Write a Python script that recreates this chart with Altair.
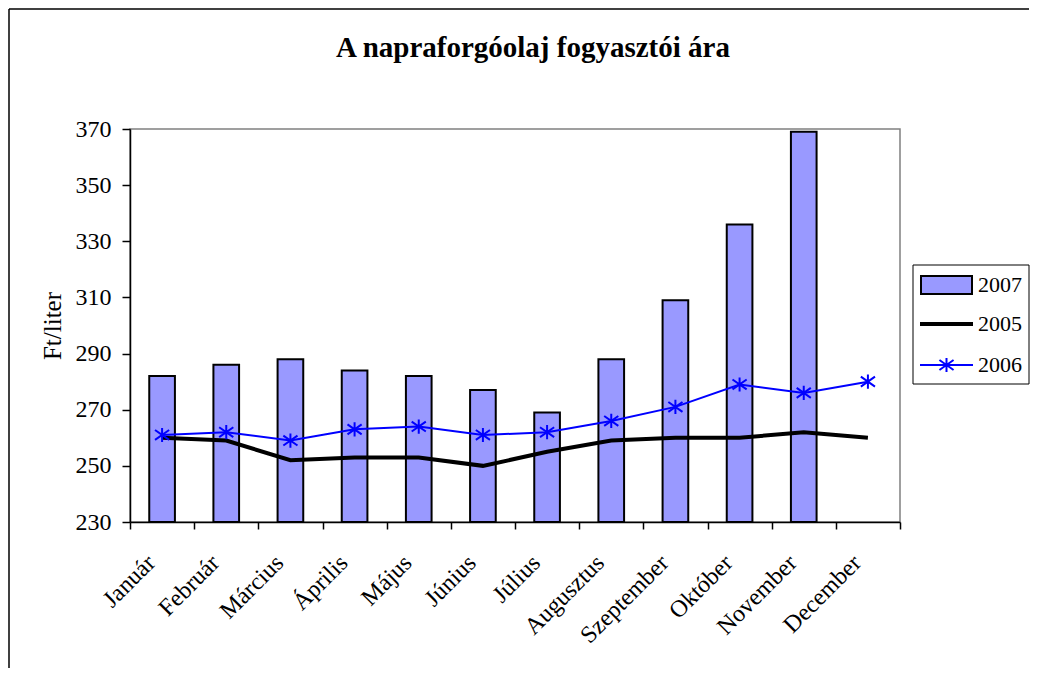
import altair as alt
import pandas as pd

months = ["Január", "Február", "Március", "Április", "Május", "Június",
          "Július", "Augusztus", "Szeptember", "Október", "November", "December"]
v2007 = [282, 286, 288, 284, 282, 277, 269, 288, 309, 336, 369, None]
v2005 = [260, 259, 252, 253, 253, 250, 255, 259, 260, 260, 262, 260]
v2006 = [261, 262, 259, 263, 264, 261, 262, 266, 271, 279, 276, 280]
series_names = ["2007", "2005", "2006"]
y_ticks = [230, 250, 270, 290, 310, 330, 350, 370]
chart_title = "A napraforgóolaj fogyasztói ára"
y_title = "Ft/liter"

FONT = "Liberation Serif"
STAR = "M0,-1L0,1M-1,-0.7L1,0.7M-1,0.7L1,-0.7"

df = pd.DataFrame({"month": months, "v2007": v2007, "v2005": v2005, "v2006": v2006})
df_bar = df.dropna(subset=["v2007"])

W, H = 770, 393

xenc = alt.X("month:N", sort=months,
             scale=alt.Scale(paddingInner=0, paddingOuter=0),
             axis=alt.Axis(title=None, labelAngle=-45, labelAlign="right",
                           labelBaseline="middle", labelPadding=30, labelOffset=-11,
                           tickBand="extent", tickSize=7, labelFontSize=24,
                           labelFont=FONT, labelColor="black",
                           domainColor="black", tickColor="black",
                           domainWidth=1.5, tickWidth=1.5))
yscale = alt.Scale(domain=[230, 370], nice=False, zero=False)
yaxis = alt.Axis(values=y_ticks, title=y_title, grid=False, tickSize=8,
                 labelFontSize=24, labelFont=FONT, labelColor="black",
                 labelPadding=11, titleFont=FONT, titleFontSize=25,
                 titleFontWeight="normal", titleColor="black", titlePadding=10,
                 domainColor="black", tickColor="black",
                 domainWidth=1.5, tickWidth=1.5)

base = alt.Chart(df)
one = pd.DataFrame({"k": [0]})

frame_left = alt.Chart(one).mark_rule(color="black", strokeWidth=1.5).encode(
    x=alt.value(-121), y=alt.value(-120), y2=alt.value(539))
frame_top = alt.Chart(one).mark_rule(color="black", strokeWidth=1.5).encode(
    x=alt.value(-121), x2=alt.value(899), y=alt.value(-120))

bars = alt.Chart(df_bar).mark_bar(
    width=alt.RelativeBandSize(0.4), fill="#9999FF", stroke="black", strokeWidth=2
).encode(x=xenc, y=alt.Y("v2007:Q", scale=yscale, axis=yaxis), y2=alt.datum(230))

line05 = base.mark_line(color="black", strokeWidth=4).encode(
    x=xenc, y=alt.Y("v2005:Q", scale=yscale, axis=yaxis))

line06 = base.mark_line(color="#0000FF", strokeWidth=2).encode(
    x=xenc, y=alt.Y("v2006:Q", scale=yscale, axis=yaxis))

pts06 = base.mark_point(shape=STAR, size=200, filled=False, color="#0000FF",
                        strokeWidth=2, opacity=1).encode(
    x=xenc, y=alt.Y("v2006:Q", scale=yscale, axis=yaxis))

LX = 783
leg_box = alt.Chart(one).mark_rect(fill="white", stroke="black", strokeWidth=1).encode(
    x=alt.value(LX), x2=alt.value(LX + 116), y=alt.value(136), y2=alt.value(255))
leg_sw = alt.Chart(one).mark_rect(fill="#9999FF", stroke="black", strokeWidth=2).encode(
    x=alt.value(LX + 8), x2=alt.value(LX + 59), y=alt.value(147), y2=alt.value(165))
leg_l05 = alt.Chart(one).mark_rule(color="black", strokeWidth=4).encode(
    x=alt.value(LX + 7), x2=alt.value(LX + 60), y=alt.value(195))
leg_l06 = alt.Chart(one).mark_rule(color="#0000FF", strokeWidth=2).encode(
    x=alt.value(LX + 7), x2=alt.value(LX + 60), y=alt.value(236))
leg_p06 = alt.Chart(one).mark_point(shape=STAR, size=200, filled=False, color="#0000FF",
                                    strokeWidth=2, opacity=1).encode(
    x=alt.value(LX + 33.5), y=alt.value(236))
leg_texts = []
for name, yy in zip(series_names, [156, 195, 236]):
    leg_texts.append(alt.Chart(one).mark_text(
        text=name, align="left", baseline="middle", font=FONT, fontSize=22, color="black"
    ).encode(x=alt.value(LX + 65), y=alt.value(yy)))

title_mark = alt.Chart(one).mark_text(
    text=chart_title, align="center", baseline="alphabetic", font=FONT, fontSize=29,
    fontWeight="bold", color="black"
).encode(x=alt.value(403), y=alt.value(-72))

chart = alt.layer(
    frame_left, frame_top, bars, line05, line06, pts06,
    leg_box, leg_sw, leg_l05, leg_l06, leg_p06, *leg_texts, title_mark
).properties(
    width=W, height=H,
    padding={"left": 0, "top": 0, "right": 0, "bottom": 0},
    background="white"
).configure_view(stroke="#808080", strokeWidth=1.5)

chart.save("out.html", embed_options={"renderer": "svg", "actions": False})
